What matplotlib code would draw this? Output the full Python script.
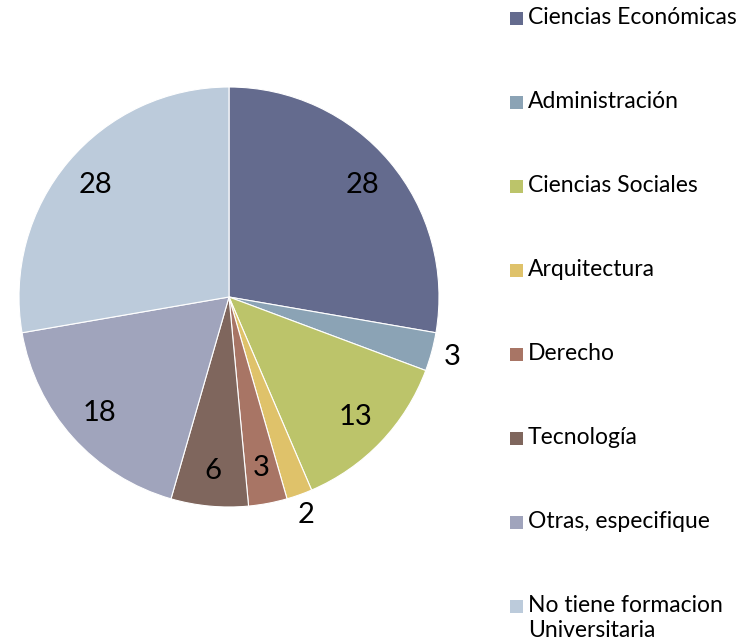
import matplotlib
matplotlib.use("Agg")
import matplotlib.pyplot as plt
import numpy as np

categories = ["Ciencias Económicas", "Administración", "Ciencias Sociales", "Arquitectura",
              "Derecho", "Tecnología", "Otras, especifique", "No tiene formacion\nUniversitaria"]
values = [28, 3, 13, 2, 3, 6, 18, 28]
colors = ["#646b8e", "#8ba3b5", "#bcc46a", "#dfc26a", "#a87565", "#7f665d", "#a0a4bc", "#bccbdb"]
outside = [False, True, False, True, False, False, False, False]

plt.rcParams['font.family'] = ['Lato', 'DejaVu Sans']

W, H = 756, 641
fig = plt.figure(figsize=(W / 100, H / 100), dpi=100)
R = 210
ax = fig.add_axes([(229 - R) / W, (H - 297 - R) / H, 2 * R / W, 2 * R / H])
wedges, _ = ax.pie(values, colors=colors, startangle=90, counterclock=False,
                   wedgeprops=dict(edgecolor="white", linewidth=0.8))
ax.set_xlim(-1, 1)
ax.set_ylim(-1, 1)
ax.set_aspect("equal")

for w, v, out in zip(wedges, values, outside):
    ang = np.deg2rad((w.theta1 + w.theta2) / 2)
    r = 1.1 if out else 0.83
    ax.text(r * np.cos(ang), r * np.sin(ang), str(v), ha="center", va="center",
            fontsize=21, color="black", clip_on=False)

# legend drawn manually (marker aligned with first text line)
fs = 16.5
sq = 13
line_px = fs * 100 / 72 * 1.2
for i, (lab, c) in enumerate(zip(categories, colors)):
    yc = 18 + 84 * i
    fig.patches.append(plt.Rectangle((510 / W, (H - yc - sq / 2) / H), sq / W, sq / H,
                                     transform=fig.transFigure, facecolor=c, edgecolor="none"))
    fig.text(528 / W, (H - yc - 3 + line_px / 2) / H, lab, ha="left", va="top",
             fontsize=fs, color="black", linespacing=1.2)

fig.savefig("out.png", dpi=100)
